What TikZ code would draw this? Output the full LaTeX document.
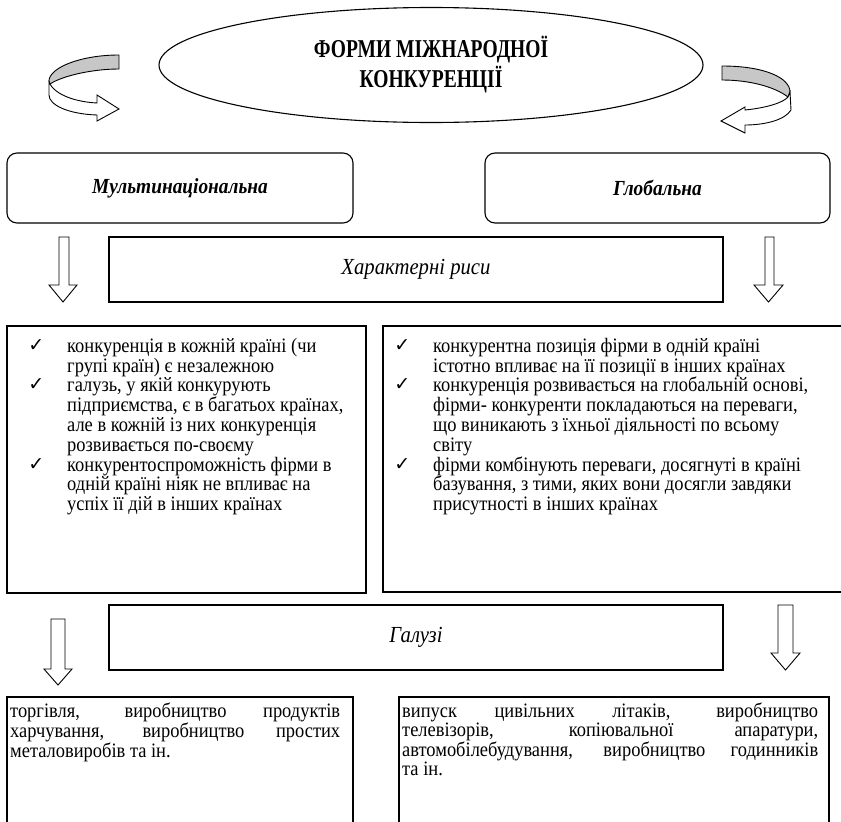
\documentclass[tikz,border=0pt]{standalone}
\usepackage{fontspec}
\setmainfont{Liberation Serif}[FakeStretch=0.9]
\newfontfamily\titlefont{Liberation Serif}[FakeStretch=0.76]
\newfontfamily\symfont{DejaVu Sans}
\usetikzlibrary{shapes.geometric}
\setlength{\lineskiplimit}{-100pt}

\newcommand{\chk}{\llap{\raisebox{1pt}{\symfont\fontsize{19}{19}\selectfont ✓}\hspace{23pt}}}
\newcommand{\firstline}{\rule{0pt}{17pt}}

\tikzset{
  x=1pt, y=-1pt,
  outline/.style={draw=black, line width=1.1pt},
  formbox/.style={outline, rounded corners=10pt, minimum width=346pt, minimum height=70pt,
    font=\fontsize{21.5}{26}\selectfont\bfseries\itshape},
  headbox/.style={outline, minimum width=614pt, minimum height=65pt,
    font=\fontsize{23}{28}\selectfont\itshape},
  listtext/.style={anchor=north west, align=left, inner sep=0pt,
    font=\fontsize{20.5}{19.8}\selectfont},
  fieldtext/.style={anchor=north west, align=justify, inner sep=0pt,
    font=\fontsize{20.5}{15}\selectfont},
  blockarrow/.style={draw=black, line width=0.9pt, fill=white, line join=miter},
  ribbonback/.style={draw=black, line width=0.9pt, fill=black!22},
  ribbonfront/.style={draw=black, line width=0.9pt, fill=white},
}

% downward block arrow: shaft left, shaft right, head left, head right, top, neck, tip
\newcommand{\blockdown}[7]{%
  \draw[blockarrow] (#1,#5) -- (#1,#6) -- (#3,#6) -- ({(#3+#4)/2},#7) -- (#4,#6)
    -- (#2,#6) -- (#2,#5) -- cycle;}

\begin{document}
\begin{tikzpicture}
\useasboundingbox (0,0) rectangle (841,822);

% title ellipse
\node[outline, ellipse, minimum width=544pt, minimum height=115pt, inner sep=0pt,
  align=center, font=\titlefont\fontsize{25.7}{30}\selectfont\bfseries] (title) at (431,65)
  {ФОРМИ МІЖНАРОДНОЇ\\КОНКУРЕНЦІЇ};

% left curved ribbon arrow
\draw[ribbonback] (119,55) .. controls (80,55) and (49,68) .. (49,81)
  -- (50,84) .. controls (62,76) and (92,69) .. (119,69) -- cycle;
\draw[ribbonfront] (49,82) .. controls (55,96) and (78,102) .. (97,103)
  -- (97,95) -- (119,109) -- (97,121) -- (97,115)
  .. controls (68,114) and (49,105) .. (49,95) -- cycle;

% right curved ribbon arrow
\draw[ribbonback] (722,66) .. controls (765,66) and (790,78) .. (790,92)
  -- (788,97) .. controls (775,87) and (750,80) .. (722,80) -- cycle;
\draw[ribbonfront] (790,92) -- (791,110) .. controls (785,120) and (765,125) .. (745,125)
  -- (745,133) -- (721,121) -- (745,107) -- (745,110)
  .. controls (765,108) and (783,103) .. (788,97) -- cycle;

% the two forms
\node[formbox] (multi) at (180,188) {Мультинаціональна};
\node[formbox, minimum width=345pt] (global) at (657.5,188) {Глобальна};

% characteristic features
\node[headbox] (traits) at (416,269.5) {Характерні риси};
\blockdown{59}{69}{49}{77}{237}{285}{302}
\blockdown{765}{774}{754}{783}{237}{285}{302}

\draw[outline] (7,326) rectangle (366,593);
\node[listtext] (multiTraits) at (67,335) {%
\firstline\chk конкуренція в кожній країні (чи\\
групі країн) є незалежною\\
\chk галузь, у якій конкурують\\
підприємства, є в багатьох країнах,\\
але в кожній із них конкуренція\\
розвивається по-своєму\\
\chk конкурентоспроможність фірми в\\
одній країні ніяк не впливає на\\
успіх її дій в інших країнах};

\draw[outline] (383,326) rectangle (848,592);
\node[listtext] (globalTraits) at (433,335) {%
\firstline\chk конкурентна позиція фірми в одній країні\\
істотно впливає на її позиції в інших країнах\\
\chk конкуренція розвивається на глобальній основі,\\
фірми- конкуренти покладаються на переваги,\\
що виникають з їхньої діяльності по всьому\\
світу\\
\chk фірми комбінують переваги, досягнуті в країні\\
базування, з тими, яких вони досягли завдяки\\
присутності в інших країнах};

% industries
\node[headbox] (fields) at (416,637.5) {Галузі};
\blockdown{51}{65}{44}{72}{619}{669}{685}
\blockdown{778}{793}{771}{800}{605}{653}{670}

\draw[outline] (7,697) rectangle (353,840);
\node[fieldtext, text width=330pt] (multiFields) at (10,700) {%
\firstline торгівля, виробництво продуктів\linebreak
харчування, виробництво простих\linebreak
металовиробів та ін.};

\draw[outline] (399,697) rectangle (829,840);
\node[fieldtext, text width=416pt] (globalFields) at (402,700) {%
\firstline випуск цивільних літаків, виробництво\linebreak
телевізорів, копіювальної апаратури,\linebreak
автомобілебудування, виробництво годинників\linebreak
та ін.};
\end{tikzpicture}
\end{document}
